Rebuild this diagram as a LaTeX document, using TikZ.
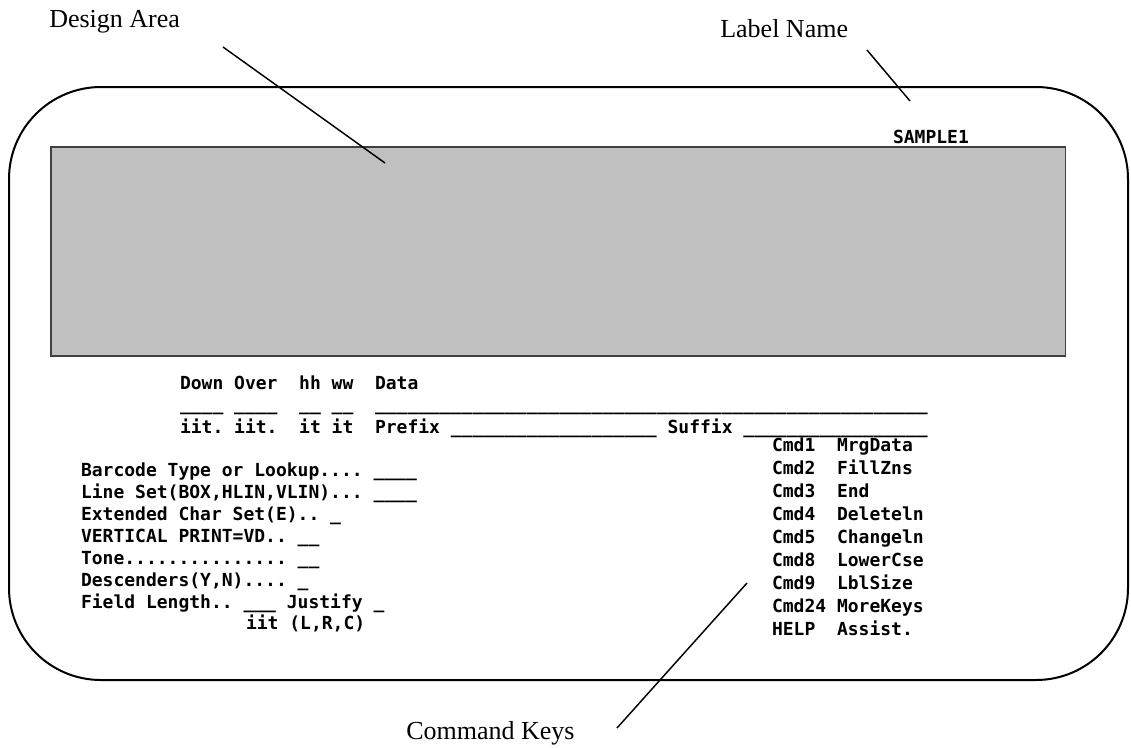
\documentclass[tikz,border=0pt]{standalone}
\usepackage{fontspec}
\setmainfont{Liberation Serif}
\newfontfamily\scrmono{DejaVu Sans Mono}
\begin{document}
\begin{tikzpicture}[x=0.75pt,y=-0.75pt,
  mono/.style={font=\scrmono\bfseries\fontsize{13.5}{16}\selectfont, anchor=base west, inner sep=0pt, outer sep=0pt},
  callout/.style={font=\fontsize{19.5}{23}\selectfont, anchor=base west, inner sep=0pt},
  leader/.style={line width=1.1pt},
  frame/.style={line width=1.5pt, rounded corners=69pt},
  design/.style={fill=designgray, draw=black!75, line width=0.8pt}]
\definecolor{designgray}{HTML}{C0C0C0}
\useasboundingbox (0,0) rectangle (1131,747);

% screen outline and design area
\draw[frame] (9,87) rectangle (1128,680);
\draw[design] (51,147) rectangle (1065.7,356);

% callout labels
\node[callout] (dalbl) at (49,27) {Design Area};
\node[callout] (lnlbl) at (720,37) {Label Name};
\node[callout] (cklbl) at (406,739) {Command Keys};
\coordinate (da1) at (223,47);
\coordinate (da2) at (385,163);
\coordinate (ln1) at (867,50);
\coordinate (ln2) at (910,101);
\coordinate (ck1) at (617,728);
\coordinate (ck2) at (747,583);
\draw[leader] (da1) -- (da2);
\draw[leader] (ln1) -- (ln2);
\draw[leader] (ck1) -- (ck2);

% label name
\node[mono] (sample) at (893,143.5) {SAMPLE1};

% header rows
\node[mono] (hdr) at (180,389) {Down~Over~~hh~ww~~Data};
\node[mono] (hdrline) at (180,410) {\_\_\_\_~\_\_\_\_~~\_\_~\_\_~~\_\_\_\_\_\_\_\_\_\_\_\_\_\_\_\_\_\_\_\_\_\_\_\_\_\_\_\_\_\_\_\_\_\_\_\_\_\_\_\_\_\_\_\_\_\_\_\_\_\_\_};
\node[mono] (hdrfmt) at (180,433) {iit.~iit.~~it~it~~Prefix~\_\_\_\_\_\_\_\_\_\_\_\_\_\_\_\_\_\_\_~Suffix~\_\_\_\_\_\_\_\_\_\_\_\_\_\_\_\_\_};

% left fields
\node[mono] (f1) at (81,476.6) {Barcode~Type~or~Lookup....~\_\_\_\_};
\node[mono] (f2) at (81,498.5) {Line~Set(BOX,HLIN,VLIN)...~\_\_\_\_};
\node[mono] (f3) at (81,520.4) {Extended~Char~Set(E)..~\_};
\node[mono] (f4) at (81,542.3) {VERTICAL~PRINT=VD..~\_\_};
\node[mono] (f5) at (81,564.2) {Tone...............~\_\_};
\node[mono] (f6) at (81,586.1) {Descenders(Y,N)....~\_};
\node[mono] (f7) at (81,608) {Field~Length..~\_\_\_~Justify~\_};
\node[mono] (f8) at (246,629.9) {iit~(L,R,C)};

% command keys
\node[mono] (c1) at (772,451) {Cmd1~~MrgData};
\node[mono] (c2) at (772,474.1) {Cmd2~~FillZns};
\node[mono] (c3) at (772,497.2) {Cmd3~~End};
\node[mono] (c4) at (772,520.3) {Cmd4~~Deleteln};
\node[mono] (c5) at (772,543.4) {Cmd5~~Changeln};
\node[mono] (c6) at (772,566.5) {Cmd8~~LowerCse};
\node[mono] (c7) at (772,589.6) {Cmd9~~LblSize};
\node[mono] (c8) at (772,612.7) {Cmd24~MoreKeys};
\node[mono] (c9) at (772,635.8) {HELP~~Assist.};
\end{tikzpicture}
\end{document}
